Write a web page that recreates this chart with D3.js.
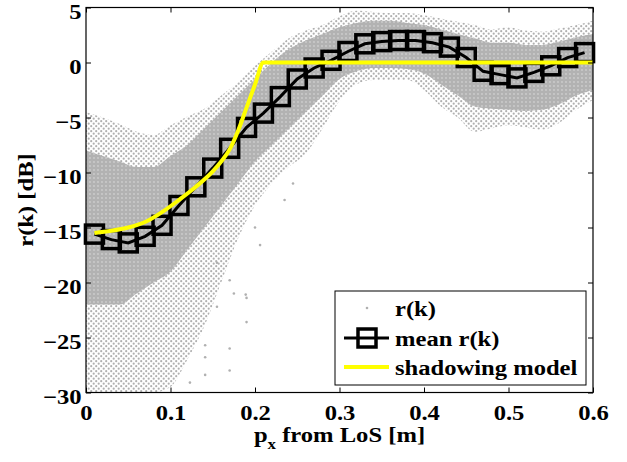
<!DOCTYPE html>
<html><head><meta charset="utf-8">
<script src="https://cdn.jsdelivr.net/npm/d3@7"></script>
<style>
html,body{margin:0;padding:0;background:#fff;}
svg text{font-family:"Liberation Serif","Times New Roman",serif;font-weight:bold;fill:#000;}
</style></head>
<body><svg id="chart" width="627" height="462"></svg>
<script>
// ---- data ----
const xTicks = [0, 0.1, 0.2, 0.3, 0.4, 0.5, 0.6];
const xTickLabels = ["0", "0.1", "0.2", "0.3", "0.4", "0.5", "0.6"];
const yTicks = [-30, -25, -20, -15, -10, -5, 0, 5];
const yTickLabels = ["\u221230", "\u221225", "\u221220", "\u221215", "\u221210", "\u22125", "0", "5"];

// mean r(k)
const meanX = [0.01,0.03,0.05,0.07,0.09,0.11,0.13,0.15,0.17,0.19,0.21,0.23,0.25,0.27,0.29,
               0.31,0.33,0.35,0.37,0.39,0.41,0.43,0.45,0.47,0.49,0.51,0.53,0.55,0.57,0.59];
const meanY = [-15.6,-16.1,-16.4,-15.8,-14.8,-13.0,-11.3,-9.6,-7.8,-5.9,-4.6,-3.1,-1.5,-0.5,0.2,
               1.0,1.7,1.9,2.0,2.0,1.8,1.4,0.45,-0.8,-1.1,-1.4,-0.9,-0.3,0.45,0.9];

// shadowing model
const shadowX = [0.01,0.03,0.05,0.07,0.09,0.11,0.13,0.15,0.16,0.17,0.18,0.19,0.20,0.21,0.6];
const shadowY = [-15.5,-15.3,-15.0,-14.5,-13.6,-12.5,-11.3,-9.9,-9.0,-7.9,-6.2,-4.1,-2.0,0,0];

// r(k) scatter cloud, read as envelopes per x position
const cloudX = [0,0.02,0.04,0.06,0.08,0.10,0.12,0.14,0.16,0.18,0.20,0.22,0.24,0.26,0.28,0.30,
                0.32,0.34,0.36,0.38,0.40,0.42,0.44,0.46,0.48,0.50,0.52,0.54,0.56,0.58,0.60];
const cloudOuterTop = [-4.5,-5.0,-5.6,-6.3,-6.6,-5.7,-4.9,-4.2,-3.0,-1.8,-0.3,1.0,2.2,2.9,3.4,4.2,
                4.7,4.6,4.5,4.5,4.3,4.0,3.7,3.4,3.0,3.2,2.9,2.8,3.1,3.4,3.8];
const cloudOuterBottom = [-30,-30,-30,-30,-30,-29.5,-27,-24,-20,-16,-13,-11,-9.5,-8.3,-6,-3.5,
                -2,-1.6,-1.6,-1.6,-2.5,-4,-5,-6.3,-6,-5.7,-5.9,-6.1,-5.5,-4.3,-3.4];
const cloudDenseTop = [-8,-8.5,-9,-9.5,-9.5,-8.5,-7.5,-6.0,-4.5,-3.0,-1.5,0.0,1.2,2.0,2.6,3.2,
                3.6,3.8,3.8,3.6,3.4,3.0,2.6,2.2,1.8,1.8,1.6,1.6,1.9,2.3,2.6];
const cloudDenseBottom = [-22,-22,-22,-21,-20,-19,-17,-15,-13,-11,-9,-7.5,-6,-4.5,-3,-1.5,
                -0.8,-0.5,-0.5,-0.6,-1.0,-2.0,-3.0,-4.0,-4.2,-4.3,-4.4,-4.3,-3.8,-3.0,-2.5];
// isolated r(k) points in the sparse tail
const outlierX = [0.123,0.141,0.141,0.141,0.170,0.170,0.190,0.189,0.190,0.206,0.155,0.155,0.170,0.175,0.2,0.235,0.245];
const outlierY = [-29.1,-25.7,-26.8,-28.4,-26.0,-28.0,-23.6,-21.1,-21.4,-16.6,-18.2,-22.2,-19.8,-21.0,-15.0,-12.5,-11.0];

// ---- layout ----
const svg = d3.select("#chart");
const L = 86, R = 593, T = 7.5, B = 392.5;
const FS = 20.5, SX = 1.2;   // font size and horizontal stretch of all texts
const x = d3.scaleLinear().domain([0, 0.6]).range([L, R]);
const y = d3.scaleLinear().domain([-30, 5]).range([B, T]);

const defs = svg.append("defs");
defs.append("clipPath").attr("id","clip").append("rect")
  .attr("x",L).attr("y",T).attr("width",R-L).attr("height",B-T);
const sp = defs.append("pattern").attr("id","sparse").attr("width",5).attr("height",5)
  .attr("patternUnits","userSpaceOnUse");
sp.append("circle").attr("cx",1.2).attr("cy",1.2).attr("r",1.1).attr("fill","#b0b0b0");
sp.append("circle").attr("cx",3.7).attr("cy",3.7).attr("r",1.1).attr("fill","#b0b0b0");
const dp = defs.append("pattern").attr("id","dense").attr("width",4).attr("height",4)
  .attr("patternUnits","userSpaceOnUse");
dp.append("rect").attr("width",4).attr("height",4).attr("fill","#b2b2b2");
dp.append("circle").attr("cx",2).attr("cy",2).attr("r",0.7).attr("fill","#e6e6e6");

const plot = svg.append("g").attr("clip-path","url(#clip)");

const cloud = cloudX.map((cx,i)=>({x:cx, ot:cloudOuterTop[i], ob:cloudOuterBottom[i], dt:cloudDenseTop[i], db:cloudDenseBottom[i]}));
plot.append("path").datum(cloud)
  .attr("d", d3.area().x(d=>x(d.x)).y0(d=>y(d.ob)).y1(d=>y(d.ot)).curve(d3.curveMonotoneX))
  .attr("fill","url(#sparse)");
plot.append("path").datum(cloud)
  .attr("d", d3.area().x(d=>x(d.x)).y0(d=>y(d.db)).y1(d=>y(d.dt)).curve(d3.curveMonotoneX))
  .attr("fill","url(#dense)");
plot.selectAll("circle.out").data(outlierX.map((v,i)=>[v,outlierY[i]])).enter()
  .append("circle").attr("class","out").attr("cx",d=>x(d[0])).attr("cy",d=>y(d[1]))
  .attr("r",1.3).attr("fill","#b0b0b0");

// mean line + markers
const meanData = meanX.map((v,i)=>[v,meanY[i]]);
svg.append("path").datum(meanData)
  .attr("d", d3.line().x(d=>x(d[0])).y(d=>y(d[1])))
  .attr("fill","none").attr("stroke","#000").attr("stroke-width",3);
const S = 18;
svg.selectAll("rect.mk").data(meanData).enter().append("rect").attr("class","mk")
  .attr("x",d=>x(d[0])-S/2).attr("y",d=>y(d[1])-S/2).attr("width",S).attr("height",S)
  .attr("fill","none").attr("stroke","#000").attr("stroke-width",3.5);

// shadowing model
svg.append("path").datum(shadowX.map((v,i)=>[v,shadowY[i]]))
  .attr("d", d3.line().x(d=>x(d[0])).y(d=>y(d[1])).curve(d3.curveMonotoneX))
  .attr("fill","none").attr("stroke","#ffff00").attr("stroke-width",4);

// axes
const gx = svg.append("g").attr("transform",`translate(0,${B})`)
  .call(d3.axisBottom(x).tickValues(xTicks).tickFormat((d,i)=>xTickLabels[i]).tickSizeInner(-5).tickSizeOuter(0));
const gxt = svg.append("g").attr("transform",`translate(0,${T})`)
  .call(d3.axisTop(x).tickValues(xTicks).tickFormat("").tickSizeInner(-5).tickSizeOuter(0));
const gy = svg.append("g").attr("transform",`translate(${L},0)`)
  .call(d3.axisLeft(y).tickValues(yTicks).tickFormat((d,i)=>yTickLabels[i]).tickSizeInner(-5).tickSizeOuter(0));
const gyr = svg.append("g").attr("transform",`translate(${R},0)`)
  .call(d3.axisRight(y).tickValues(yTicks).tickFormat("").tickSizeInner(-5).tickSizeOuter(0));
[gx,gxt,gy,gyr].forEach(g=>{
  g.attr("font-family",null).attr("font-size",null);
  g.select(".domain").remove();
  g.selectAll("line").attr("stroke","#000").attr("stroke-width",1);
  g.selectAll("text").attr("font-size",FS).attr("fill","#000");
});
gx.selectAll("text").attr("y",28).attr("dy",0).attr("transform",`scale(${SX},1)`);
gy.selectAll("text").attr("x",-4.5/SX).attr("y",0).attr("dy",10.5).attr("transform",`scale(${SX},1)`);
svg.append("rect").attr("x",L).attr("y",T).attr("width",R-L).attr("height",B-T)
  .attr("fill","none").attr("stroke","#000").attr("stroke-width",1.2);

// axis labels
const xl = svg.append("g").attr("transform",`translate(${(L+R)/2},442) scale(${SX},1)`)
  .append("text").attr("text-anchor","middle").attr("font-size",FS);
xl.append("tspan").text("p");
xl.append("tspan").attr("font-size",14).attr("dy",7).text("x");
xl.append("tspan").attr("dy",-7).text(" from LoS [m]");
svg.append("g").attr("transform",`translate(33,200) rotate(-90) scale(${SX},1)`)
  .append("text").attr("text-anchor","middle").attr("font-size",FS).text("r(k) [dB]");

// legend
const lg = svg.append("g");
lg.append("rect").attr("x",335).attr("y",291).attr("width",251).attr("height",94)
  .attr("fill","#fff").attr("stroke","#000").attr("stroke-width",1);
lg.append("circle").attr("cx",367).attr("cy",308).attr("r",1.3).attr("fill","#b0b0b0");
lg.append("line").attr("x1",344).attr("x2",389).attr("y1",338).attr("y2",338).attr("stroke","#000").attr("stroke-width",3);
lg.append("rect").attr("x",367-S/2).attr("y",338-S/2).attr("width",S).attr("height",S)
  .attr("fill","none").attr("stroke","#000").attr("stroke-width",3.5);
lg.append("line").attr("x1",344).attr("x2",389).attr("y1",367).attr("y2",367).attr("stroke","#ffff00").attr("stroke-width",4);
const legTexts = ["r(k)","mean r(k)","shadowing model"];
const legY = [316,346,375];
legTexts.forEach((t,i)=>lg.append("g").attr("transform",`translate(395,${legY[i]}) scale(${SX},1)`)
  .append("text").attr("font-size",FS).text(t));
</script></body></html>
